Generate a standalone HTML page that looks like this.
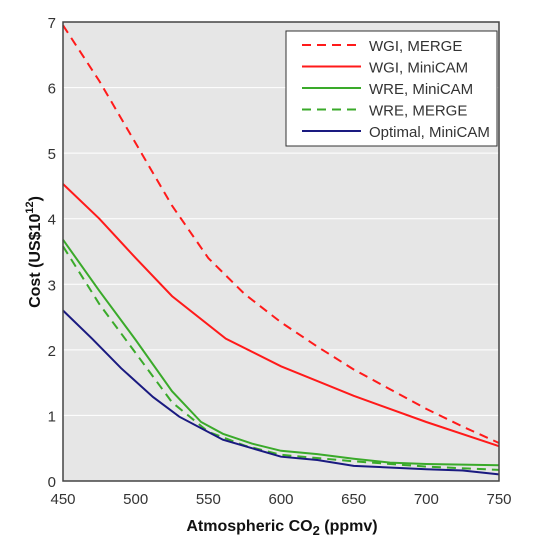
<!DOCTYPE html>
<html><head><meta charset="utf-8"><style>
body{margin:0;background:#fff;}
svg text{font-family:"Liberation Sans",sans-serif;}
</style></head><body>
<svg id="chart" width="541" height="551" viewBox="0 0 541 551" xmlns="http://www.w3.org/2000/svg">
<rect x="63" y="22" width="436" height="459" fill="#e6e6e6"/>
<g id="grid"></g>
<g id="series"></g>
<rect x="63" y="22" width="436" height="459" fill="none" stroke="#444" stroke-width="1.5"/>
<g id="ticks"></g>
<text x="282" y="531" text-anchor="middle" font-size="16" font-weight="bold" fill="#111">Atmospheric  CO<tspan font-size="13" dy="4">2</tspan><tspan dy="-4">  (ppmv)</tspan></text>
<text transform="translate(40,252) rotate(-90)" text-anchor="middle" font-size="16" font-weight="bold" fill="#111">Cost  (US$10<tspan font-size="11" dy="-7">12</tspan><tspan dy="7">)</tspan></text>
<g>
<rect x="286" y="31" width="211" height="115" fill="#fff" stroke="#333" stroke-width="1"/>
<g id="legend-items"></g>
</g>
</svg>
<script>
const xTicks=[450,500,550,600,650,700,750];
const yTicks=[0,1,2,3,4,5,6,7];
const names=["WGI, MERGE","WGI, MiniCAM","WRE, MiniCAM","WRE, MERGE","Optimal, MiniCAM"];
const colors=["#ff1a1a","#ff1a1a","#3aaa2a","#3aaa2a","#1a1a80"];
const dashed=[true,false,false,true,false];
const wgiMergeX=[450,475,500,525,550,575,600,625,650,675,700,725,750];
const wgiMergeY=[6.95,6.1,5.15,4.2,3.4,2.85,2.42,2.05,1.7,1.4,1.1,0.83,0.58];
const wgiMiniX=[450,475,500,525,562,600,650,700,750];
const wgiMiniY=[4.53,4.0,3.4,2.82,2.17,1.75,1.3,0.9,0.53];
const wreMiniX=[450,475,500,525,545,560,580,600,625,650,675,700,750];
const wreMiniY=[3.68,2.9,2.15,1.37,0.9,0.72,0.57,0.46,0.41,0.34,0.28,0.26,0.24];
const wreMergeX=[450,475,500,525,550,575,600,650,700,750];
const wreMergeY=[3.58,2.7,1.95,1.2,0.75,0.54,0.4,0.3,0.22,0.17];
const optX=[450,470,490,512,530,560,580,600,625,650,700,725,750];
const optY=[2.6,2.17,1.72,1.28,0.98,0.63,0.5,0.37,0.32,0.23,0.18,0.16,0.1];
const seriesX=[wgiMergeX,wgiMiniX,wreMiniX,wreMergeX,optX];
const seriesY=[wgiMergeY,wgiMiniY,wreMiniY,wreMergeY,optY];
const X0=63,X1=499,Y0=481,Y1=22;
const sx=v=>X0+(v-450)/(750-450)*(X1-X0);
const sy=v=>Y0-(v-0)/7*(Y0-Y1);
const NS="http://www.w3.org/2000/svg";
const mk=(t,a,p)=>{const e=document.createElementNS(NS,t);for(const k in a)e.setAttribute(k,a[k]);p.appendChild(e);return e;};
const grid=document.getElementById('grid'),ticks=document.getElementById('ticks'),ser=document.getElementById('series'),leg=document.getElementById('legend-items');
yTicks.forEach(v=>{
 if(v>0&&v<7){const l=mk('line',{x1:X0,x2:X1,y1:sy(v),y2:sy(v),stroke:'#fff','stroke-width':1},grid);
 
 }
 const t=mk('text',{x:X0-7,y:sy(v)+6,'text-anchor':'end','font-size':'15',fill:'#333'},ticks);t.textContent=v;
 
 
});
xTicks.forEach(v=>{
 const t=mk('text',{x:sx(v),y:504,'text-anchor':'middle','font-size':'15',fill:'#333'},ticks);t.textContent=v;
 
 
});
seriesX.forEach((xs,i)=>{
 const pts=xs.map((x,j)=>sx(x).toFixed(1)+','+sy(seriesY[i][j]).toFixed(1)).join(' ');
 const p=mk('polyline',{points:pts,fill:'none',stroke:colors[i],'stroke-width':2},ser);
 if(dashed[i])p.setAttribute('stroke-dasharray','9,6');
 
 
 const ly=45+i*21.5;
 const l=mk('line',{x1:302,x2:361,y1:ly,y2:ly,stroke:colors[i],'stroke-width':2},leg);
 if(dashed[i])l.setAttribute('stroke-dasharray','9,6');
 
 
 const t=mk('text',{x:369,y:ly+6,'font-size':'15',fill:'#333'},leg);t.textContent=names[i];
 
 
});
</script>
</body></html>
